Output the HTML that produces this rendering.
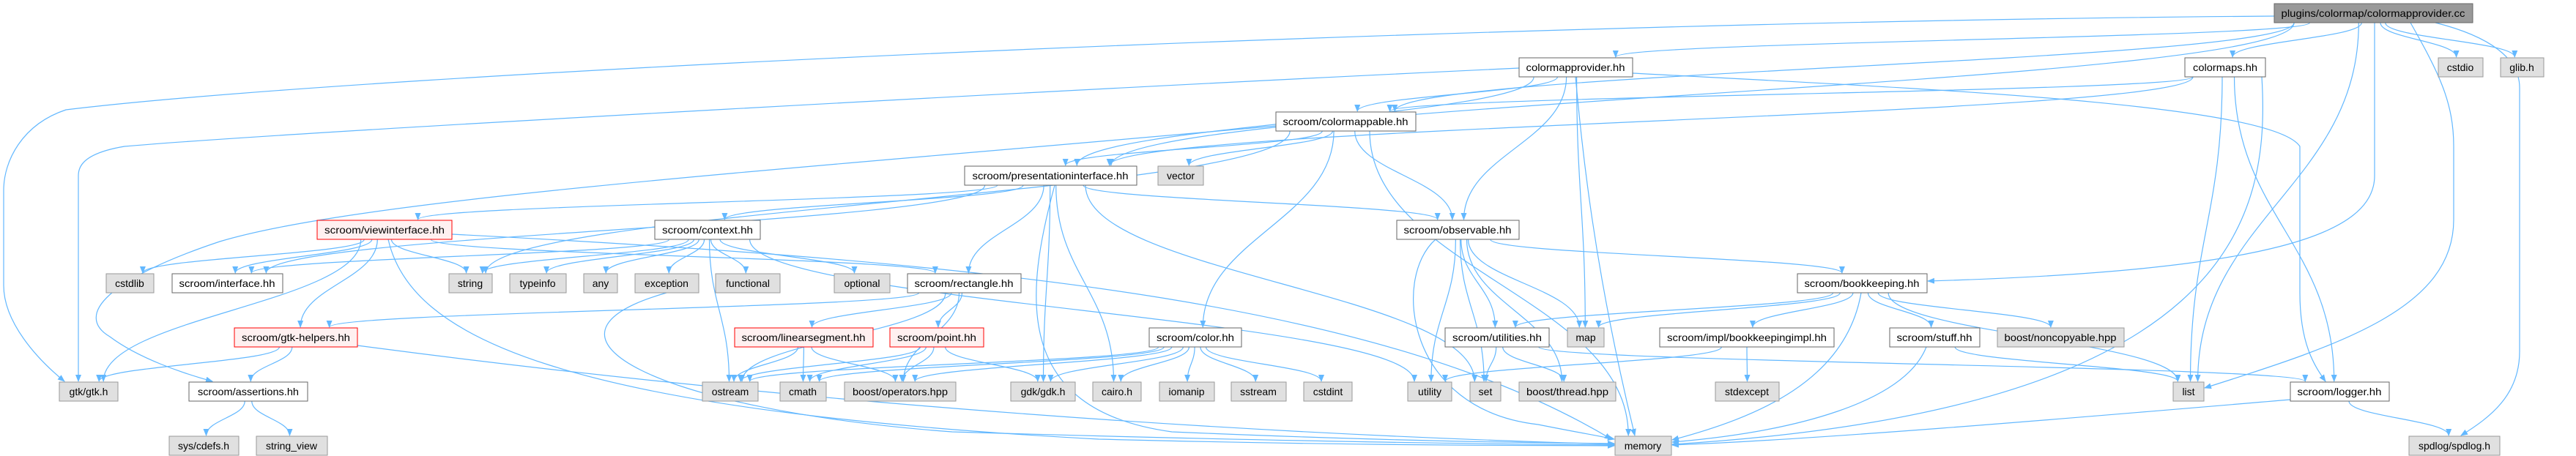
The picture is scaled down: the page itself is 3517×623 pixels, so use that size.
<!DOCTYPE html>
<html><head><meta charset="utf-8">
<style>
html,body{margin:0;padding:0;background:#fff;width:3517px;height:623px;overflow:hidden}
svg text{font-family:"Liberation Sans","DejaVu Sans",sans-serif;font-size:14px;fill:#000}
</style></head>
<body>
<svg id="g" width="3517" height="623" viewBox="0 0 3517 623" xmlns="http://www.w3.org/2000/svg">
<defs><marker id="a" markerWidth="10" markerHeight="8" refX="9" refY="4" orient="auto" markerUnits="userSpaceOnUse"><path d="M0,0 L10,4 L0,8 z" fill="#63b8ff"/></marker></defs>
<g id="edges" fill="none" stroke="#63b8ff" stroke-width="1.2"></g>
<g id="nodes">
<rect x="3105" y="5" width="271" height="26" fill="#999" stroke="#666"/><text x="3240" y="23" text-anchor="middle" textLength="251" lengthAdjust="spacingAndGlyphs">plugins/colormap/colormapprovider.cc</text>
<rect x="2074" y="79" width="155" height="26" fill="#fff" stroke="#666"/><text x="2151" y="97" text-anchor="middle" textLength="135" lengthAdjust="spacingAndGlyphs">colormapprovider.hh</text>
<rect x="2983" y="79" width="110" height="26" fill="#fff" stroke="#666"/><text x="3038" y="97" text-anchor="middle" textLength="88" lengthAdjust="spacingAndGlyphs">colormaps.hh</text>
<rect x="3329" y="79" width="61" height="26" fill="#e0e0e0" stroke="#999"/><text x="3359" y="97" text-anchor="middle">cstdio</text>
<rect x="3414" y="79" width="59" height="26" fill="#e0e0e0" stroke="#999"/><text x="3443" y="97" text-anchor="middle">glib.h</text>
<rect x="1742" y="153" width="191" height="26" fill="#fff" stroke="#666"/><text x="1837" y="171" text-anchor="middle" textLength="171" lengthAdjust="spacingAndGlyphs">scroom/colormappable.hh</text>
<rect x="1317" y="227" width="235" height="26" fill="#fff" stroke="#666"/><text x="1434" y="245" text-anchor="middle" textLength="213" lengthAdjust="spacingAndGlyphs">scroom/presentationinterface.hh</text>
<rect x="1581" y="227" width="62" height="26" fill="#e0e0e0" stroke="#999"/><text x="1612" y="245" text-anchor="middle">vector</text>
<rect x="433" y="301" width="184" height="26" fill="#fff0f0" stroke="#f00"/><text x="525" y="319" text-anchor="middle" textLength="164" lengthAdjust="spacingAndGlyphs">scroom/viewinterface.hh</text>
<rect x="894" y="301" width="144" height="26" fill="#fff" stroke="#666"/><text x="966" y="319" text-anchor="middle" textLength="124" lengthAdjust="spacingAndGlyphs">scroom/context.hh</text>
<rect x="1907" y="301" width="167" height="26" fill="#fff" stroke="#666"/><text x="1990" y="319" text-anchor="middle" textLength="147" lengthAdjust="spacingAndGlyphs">scroom/observable.hh</text>
<rect x="145" y="374" width="65" height="26" fill="#e0e0e0" stroke="#999"/><text x="177" y="392" text-anchor="middle">cstdlib</text>
<rect x="235" y="374" width="151" height="26" fill="#fff" stroke="#666"/><text x="310" y="392" text-anchor="middle" textLength="131" lengthAdjust="spacingAndGlyphs">scroom/interface.hh</text>
<rect x="613" y="374" width="59" height="26" fill="#e0e0e0" stroke="#999"/><text x="642" y="392" text-anchor="middle">string</text>
<rect x="696" y="374" width="77" height="26" fill="#e0e0e0" stroke="#999"/><text x="734" y="392" text-anchor="middle">typeinfo</text>
<rect x="797" y="374" width="46" height="26" fill="#e0e0e0" stroke="#999"/><text x="820" y="392" text-anchor="middle">any</text>
<rect x="867" y="374" width="87" height="26" fill="#e0e0e0" stroke="#999"/><text x="910" y="392" text-anchor="middle">exception</text>
<rect x="977" y="374" width="88" height="26" fill="#e0e0e0" stroke="#999"/><text x="1021" y="392" text-anchor="middle">functional</text>
<rect x="1139" y="374" width="76" height="26" fill="#e0e0e0" stroke="#999"/><text x="1177" y="392" text-anchor="middle">optional</text>
<rect x="1239" y="374" width="155" height="26" fill="#fff" stroke="#666"/><text x="1316" y="392" text-anchor="middle" textLength="135" lengthAdjust="spacingAndGlyphs">scroom/rectangle.hh</text>
<rect x="2454" y="374" width="177" height="26" fill="#fff" stroke="#666"/><text x="2542" y="392" text-anchor="middle" textLength="157" lengthAdjust="spacingAndGlyphs">scroom/bookkeeping.hh</text>
<rect x="320" y="448" width="168" height="26" fill="#fff0f0" stroke="#f00"/><text x="404" y="466" text-anchor="middle" textLength="148" lengthAdjust="spacingAndGlyphs">scroom/gtk-helpers.hh</text>
<rect x="1003" y="448" width="189" height="26" fill="#fff0f0" stroke="#f00"/><text x="1097" y="466" text-anchor="middle" textLength="169" lengthAdjust="spacingAndGlyphs">scroom/linearsegment.hh</text>
<rect x="1215" y="448" width="128" height="26" fill="#fff0f0" stroke="#f00"/><text x="1279" y="466" text-anchor="middle" textLength="108" lengthAdjust="spacingAndGlyphs">scroom/point.hh</text>
<rect x="1569" y="448" width="126" height="26" fill="#fff" stroke="#666"/><text x="1632" y="466" text-anchor="middle" textLength="106" lengthAdjust="spacingAndGlyphs">scroom/color.hh</text>
<rect x="1973" y="448" width="142" height="26" fill="#fff" stroke="#666"/><text x="2044" y="466" text-anchor="middle" textLength="122" lengthAdjust="spacingAndGlyphs">scroom/utilities.hh</text>
<rect x="2140" y="448" width="50" height="26" fill="#e0e0e0" stroke="#999"/><text x="2165" y="466" text-anchor="middle">map</text>
<rect x="2266" y="448" width="238" height="26" fill="#fff" stroke="#666"/><text x="2385" y="466" text-anchor="middle" textLength="218" lengthAdjust="spacingAndGlyphs">scroom/impl/bookkeepingimpl.hh</text>
<rect x="2580" y="448" width="123" height="26" fill="#fff" stroke="#666"/><text x="2641" y="466" text-anchor="middle" textLength="103" lengthAdjust="spacingAndGlyphs">scroom/stuff.hh</text>
<rect x="2727" y="448" width="173" height="26" fill="#e0e0e0" stroke="#999"/><text x="2813" y="466" text-anchor="middle" textLength="153" lengthAdjust="spacingAndGlyphs">boost/noncopyable.hpp</text>
<rect x="81" y="522" width="80" height="26" fill="#e0e0e0" stroke="#999"/><text x="121" y="540" text-anchor="middle">gtk/gtk.h</text>
<rect x="258" y="522" width="162" height="26" fill="#fff" stroke="#666"/><text x="339" y="540" text-anchor="middle" textLength="138" lengthAdjust="spacingAndGlyphs">scroom/assertions.hh</text>
<rect x="959" y="522" width="76" height="26" fill="#e0e0e0" stroke="#999"/><text x="997" y="540" text-anchor="middle">ostream</text>
<rect x="1065" y="522" width="63" height="26" fill="#e0e0e0" stroke="#999"/><text x="1096" y="540" text-anchor="middle">cmath</text>
<rect x="1153" y="522" width="152" height="26" fill="#e0e0e0" stroke="#999"/><text x="1229" y="540" text-anchor="middle" textLength="130" lengthAdjust="spacingAndGlyphs">boost/operators.hpp</text>
<rect x="1380" y="522" width="88" height="26" fill="#e0e0e0" stroke="#999"/><text x="1424" y="540" text-anchor="middle">gdk/gdk.h</text>
<rect x="1492" y="522" width="66" height="26" fill="#e0e0e0" stroke="#999"/><text x="1525" y="540" text-anchor="middle">cairo.h</text>
<rect x="1583" y="522" width="75" height="26" fill="#e0e0e0" stroke="#999"/><text x="1620" y="540" text-anchor="middle">iomanip</text>
<rect x="1681" y="522" width="75" height="26" fill="#e0e0e0" stroke="#999"/><text x="1718" y="540" text-anchor="middle">sstream</text>
<rect x="1780" y="522" width="66" height="26" fill="#e0e0e0" stroke="#999"/><text x="1813" y="540" text-anchor="middle">cstdint</text>
<rect x="1922" y="522" width="60" height="26" fill="#e0e0e0" stroke="#999"/><text x="1952" y="540" text-anchor="middle">utility</text>
<rect x="2007" y="522" width="42" height="26" fill="#e0e0e0" stroke="#999"/><text x="2028" y="540" text-anchor="middle">set</text>
<rect x="2074" y="522" width="132" height="26" fill="#e0e0e0" stroke="#999"/><text x="2140" y="540" text-anchor="middle" textLength="112" lengthAdjust="spacingAndGlyphs">boost/thread.hpp</text>
<rect x="2342" y="522" width="87" height="26" fill="#e0e0e0" stroke="#999"/><text x="2385" y="540" text-anchor="middle">stdexcept</text>
<rect x="2967" y="522" width="42" height="26" fill="#e0e0e0" stroke="#999"/><text x="2988" y="540" text-anchor="middle">list</text>
<rect x="3127" y="522" width="135" height="26" fill="#fff" stroke="#666"/><text x="3194" y="540" text-anchor="middle" textLength="115" lengthAdjust="spacingAndGlyphs">scroom/logger.hh</text>
<rect x="231" y="596" width="95" height="26" fill="#e0e0e0" stroke="#999"/><text x="278" y="614" text-anchor="middle">sys/cdefs.h</text>
<rect x="350" y="596" width="97" height="26" fill="#e0e0e0" stroke="#999"/><text x="398" y="614" text-anchor="middle">string_view</text>
<rect x="2205" y="596" width="77" height="26" fill="#e0e0e0" stroke="#999"/><text x="2243" y="614" text-anchor="middle">memory</text>
<rect x="3289" y="596" width="124" height="26" fill="#e0e0e0" stroke="#999"/><text x="3351" y="614" text-anchor="middle">spdlog/spdlog.h</text>
</g>
</svg>
<script>
var N={cc:[3105,3376,5],cmprov:[2074,2229,79],colormaps:[2983,3093,79],cstdio:[3329,3390,79],glib:[3414,3473,79],
cmapp:[1742,1933,153],pres:[1317,1552,227],vector:[1581,1643,227],view:[433,617,301],ctx:[894,1038,301],obs:[1907,2074,301],
cstdlib:[145,210,374],iface:[235,386,374],string:[613,672,374],typeinfo:[696,773,374],any:[797,843,374],exc:[867,954,374],
func:[977,1065,374],opt:[1139,1215,374],rect:[1239,1394,374],bk:[2454,2631,374],gh:[320,488,448],ls:[1003,1192,448],
pt:[1215,1343,448],color:[1569,1695,448],util:[1973,2115,448],map:[2140,2190,448],bki:[2266,2504,448],stuff:[2580,2703,448],
nc:[2727,2900,448],gtk:[81,161,522],asrt:[258,420,522],ostream:[959,1035,522],cmath:[1065,1128,522],bop:[1153,1305,522],
gdk:[1380,1468,522],cairo:[1492,1558,522],iomanip:[1583,1658,522],sstream:[1681,1756,522],cstdint:[1780,1846,522],
utility:[1922,1982,522],set:[2007,2049,522],thread:[2074,2206,522],stdexc:[2342,2429,522],list:[2967,3009,522],
logger:[3127,3262,522],sysc:[231,326,596],sv:[350,447,596],memory:[2205,2282,596],spdlog:[3289,3413,596]};
var E=[["cc","colormaps"],["cc","cstdio"],["cc","glib"],["cc","list"],["cc","cmprov"],["cc","cmapp"],["cc","pres"],
["cmprov","cmapp"],["cmprov","pres"],["cmprov","obs"],["cmprov","map"],
["colormaps","cmapp"],["colormaps","pres"],["colormaps","list"],["colormaps","logger"],
["cmapp","pres"],["cmapp","vector"],["cmapp","color"],["cmapp","obs"],["cmapp","memory"],["cmapp","string"],
["pres","view"],["pres","ctx"],["pres","rect"],["pres","gdk"],["pres","cairo"],["pres","obs"],["pres","set"],["pres","iface"],
["view","cstdlib"],["view","iface"],["view","string"],["view","gtk"],["view","gh"],["view","rect"],
["ctx","iface"],["ctx","string"],["ctx","typeinfo"],["ctx","any"],["ctx","exc"],["ctx","func"],["ctx","opt"],["ctx","utility"],["ctx","ostream"],
["obs","utility"],["obs","thread"],["obs","util"],["obs","map"],["obs","bk"],["obs","set"],
["bk","util"],["bk","map"],["bk","bki"],["bk","stuff"],["bk","nc"],["bk","list"],
["util","set"],["util","thread"],["util","logger"],["bki","utility"],["bki","stdexc"],["stuff","list"],
["logger","spdlog"],
["rect","ls"],["rect","pt"],["rect","bop"],["rect","ostream"],["rect","gh"],
["ls","ostream"],["ls","cmath"],["ls","bop"],["pt","ostream"],["pt","cmath"],["pt","bop"],["pt","gdk"],
["color","ostream"],["color","cmath"],["color","bop"],["color","gdk"],["color","cairo"],["color","iomanip"],["color","sstream"],["color","cstdint"],
["gh","gtk"],["gh","asrt"],["asrt","sysc"],["asrt","sv"]];
var g=document.getElementById("edges"),s="";
function P(d){s+='<path d="'+d+'" marker-end="url(#a)"/>';}
E.forEach(function(e){var a=N[e[0]],b=N[e[1]];if(!a||!b)return;
var acx=(a[0]+a[1])/2,bcx=(b[0]+b[1])/2,aw=(a[1]-a[0])/2,bw=(b[1]-b[0])/2;
var sx,sy,tx,ty,d;
if(b[2]==a[2]){ if(bcx>acx){sx=a[1];tx=b[0]-1;}else{sx=a[0];tx=b[1]+1;} sy=a[2]+13;ty=b[2]+13;d="M"+sx+","+sy+" L"+tx+","+ty;}
else{ sx=acx+Math.max(-aw*0.8,Math.min(aw*0.8,(bcx-acx)*0.08)); sy=a[2]+26;
 tx=bcx+Math.max(-bw*0.7,Math.min(bw*0.7,(acx-bcx)*0.05)); ty=b[2]-1;
 var dy=ty-sy; d="M"+sx.toFixed(1)+","+sy+" C"+sx.toFixed(1)+","+(sy+dy*0.45).toFixed(1)+" "+tx.toFixed(1)+","+(ty-dy*0.45).toFixed(1)+" "+tx.toFixed(1)+","+ty;}
P(d);});
/* custom routed edges */
P("M3105,22 C2000,30 500,100 90,150 C30,170 5,220 5,260 L5,390 C5,440 50,490 88,521");
P("M2074,93 C1500,120 400,180 170,200 C110,210 107,230 107,240 L107,521");
P("M1742,172 C1100,230 500,270 300,330 C150,380 100,430 150,460 C190,490 250,510 290,521");
P("M3242,31 L3242,240 C3242,320 3100,370 2632,384");
P("M3325,31 C3400,50 3440,80 3440,120 L3440,480 C3440,540 3400,570 3360,595");
P("M3291,31 C3330,100 3350,140 3350,200 L3350,300 C3350,420 3200,470 3010,530");
P("M2229,100 C2600,120 3100,140 3140,200 L3140,400 C3140,470 3160,500 3175,521");
P("M2151,105 C2160,200 2175,360 2232,595");
P("M617,320 C1400,360 1900,420 2200,600");
P("M530,327 C560,460 760,560 1500,600 C1900,610 2100,608 2204,609");
P("M910,400 C700,460 900,560 1300,590 C1800,605 2100,607 2204,608");
P("M488,472 C1000,540 1600,590 2204,607");
P("M1440,253 C1400,400 1380,560 1600,590 C1900,603 2100,605 2204,606");
P("M1960,327 C1900,380 1920,560 2100,580 C2150,590 2180,595 2204,600");
P("M2541,400 C2520,520 2400,570 2283,601");
P("M2630,474 C2600,550 2450,590 2283,604");
P("M3127,546 C2900,565 2500,600 2283,608");
P("M3088,105 C3100,300 3050,560 2283,607");
g.innerHTML=s;
</script>
</body></html>
